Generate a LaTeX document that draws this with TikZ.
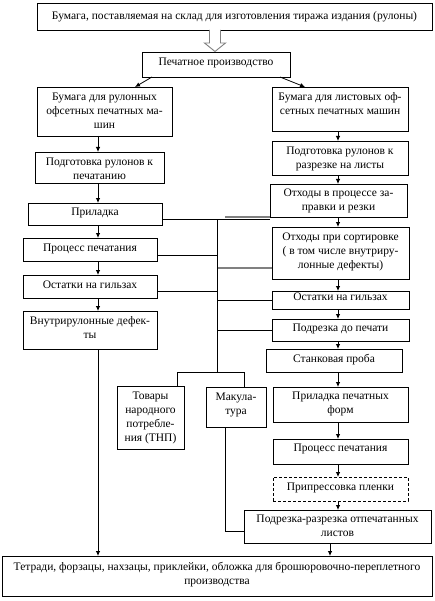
\documentclass[tikz,border=0pt]{standalone}
\usepackage{fontspec}
\setmainfont{Liberation Serif}
\usetikzlibrary{arrows.meta}
\newcommand{\myfont}{\fontsize{11.5bp}{14bp}\selectfont}
\newcommand{\bx}[8][]{%
 \pgfmathsetmacro\bxH{#7-#5}\pgfmathsetmacro\bxT{#6-#4-4}%
 \node[box,#1] (#2) at ({(#4+#6)/2},{(#5+#7)/2}) {\parbox[c][\bxH bp][t]{\bxT bp}{\vspace*{#3bp}\centering\strut #8\par}};}
\begin{document}
\begin{tikzpicture}[x=1bp,y=-1bp,
  box/.style={draw,line width=0.8bp,inner xsep=2bp,inner ysep=0pt,outer sep=0pt,font=\myfont},
  arr/.style={line width=0.8bp,-{Latex[length=5bp,width=4.5bp]}},
  ln/.style={line width=0.8bp},
  grayline/.style={line width=1.3bp,draw=gray}]
\useasboundingbox (0,0) rectangle (435,601);
\fill[white] (0,0) rectangle (435,601);
% boxes
\bx{top}{6.5}{37}{3}{432}{30}{Бумага, поставляемая на склад для изготовления тиража издания (рулоны)}
\bx{pp}{3.5}{142}{52}{290}{77}{Печатное производство}
\bx{b1}{4}{37}{87}{172}{136}{Бумага для рулонных\\офсетных печатных ма-\\шин}
\bx{b2}{3.5}{272}{87}{408}{131}{Бумага для листовых оф-\\сетных печатных машин}
\bx{p1}{3.5}{35}{152}{164}{183}{Подготовка рулонов к\\печатанию}
\bx{p2}{3.5}{272}{141}{408}{175}{Подготовка рулонов к\\разрезке на листы}
\bx{pril}{2.5}{28}{203}{162}{225}{Приладка}
\bx{ox}{3}{270}{184}{407}{217}{Отходы в процессе за-\\правки и резки}
\bx{proc1}{4}{23}{238}{157}{261}{Процесс печатания}
\bx{os}{3.5}{272}{227}{409}{279}{Отходы при сортировке\\( в том числе внутриру-\\лонные дефекты)}
\bx{ost2}{0}{272}{291}{409}{309}{Остатки на гильзах}
\bx{ost1}{3.5}{23}{275}{157}{298}{Остатки на гильзах}
\bx{vnut}{3.5}{23}{311}{157}{349}{Внутрирулонные дефек-\\ты}
\bx{podr}{2.5}{272}{319}{409}{341}{Подрезка до печати}
\bx{stank}{3.5}{266}{349}{402}{372}{Станковая проба}
\bx{tnp}{3.5}{117}{386}{184}{449}{Товары\\народного\\потребле-\\ния (ТНП)}
\bx{mak}{3.5}{206}{387}{266}{427}{Макула-\\тура}
\bx{prf}{3}{273}{387}{408}{422}{Приладка печатных\\форм}
\bx{proc2}{3}{273}{439}{408}{464}{Процесс печатания}
\bx[dashed,dash pattern=on 3bp off 2bp]{pripr}{3.5}{273}{477}{408}{501}{Припрессовка пленки}
\bx{podrez}{3}{244}{510}{431}{543}{Подрезка-разрезка отпечатанных\\листов}
\bx{bot}{4.5}{2}{556}{432}{596}{Тетради, форзацы, нахзацы, приклейки, обложка для брошюровочно-переплетного\\производства}
% hollow arrow
\draw[draw=gray,line width=0.9bp,fill=white] (209.5,30) -- (209.5,43) -- (204.5,43) -- (215,51.5) -- (225.5,43) -- (220.5,43) -- (220.5,30);
% helper coordinates
\coordinate (lx) at (98,0);
\coordinate (rx) at (338,0);
\coordinate (bx) at (330,0);
\coordinate (mx) at (217.5,0);
\coordinate (mkx) at (225,0);
\coordinate (mtop) at (217.5,219);
\coordinate (mbot) at (217.5,372);
\coordinate (bl) at (177,372);
\coordinate (br) at (244,372);
% arrows from pp
\draw[arr] ([xshift=10bp]pp.south west) -- ([xshift=30.5bp]b1.north);
\draw[arr] ([xshift=-10bp]pp.south east) -- ([xshift=-35bp]b2.north);
% left column
\draw[arr] (b1.south -| lx) -- (p1.north -| lx);
\draw[arr] (p1.south -| lx) -- (pril.north -| lx);
\draw[arr] (pril.south -| lx) -- (proc1.north -| lx);
\draw[arr] (proc1.south -| lx) -- (ost1.north -| lx);
\draw[arr] (ost1.south -| lx) -- (vnut.north -| lx);
\draw[arr] (vnut.south -| lx) -- (bot.north -| lx);
% right column
\draw[arr] (b2.south -| rx) -- (p2.north -| rx);
\draw[arr] (p2.south -| rx) -- (ox.north -| rx);
\draw[arr] (ox.south -| rx) -- (os.north -| rx);
\draw[arr] (os.south -| rx) -- (ost2.north -| rx);
\draw[arr] (ost2.south -| rx) -- (podr.north -| rx);
\draw[arr] (podr.south -| rx) -- (stank.north -| rx);
\draw[arr] (stank.south -| rx) -- (prf.north -| rx);
\draw[arr] (prf.south -| rx) -- (proc2.north -| rx);
\draw[arr] (proc2.south -| rx) -- (pripr.north -| rx);
\draw[arr] (pripr.south -| rx) -- (podrez.north -| rx);
\draw[arr] (podrez.south -| bx) -- (bot.north -| bx);
% collecting lines
\draw[ln] ([yshift=-5bp]pril.east) coordinate (t0) -- (t0 -| ox.west);
\draw[grayline] ([xshift=-45bp]ox.south west) -- (ox.south west);
\draw[ln] (mtop) -- (mbot);
\draw[ln] ([yshift=-5.5bp]proc1.east) coordinate (t1) -- (t1 -| mx);
\draw[ln] ([yshift=-4.5bp]ost1.east) coordinate (t2) -- (t2 -| mx);
\draw[grayline] ([yshift=-15bp]os.west) coordinate (t3) -- (t3 -| mx);
\draw[ln] (ost2.west) -- (ost2.west -| mx);
\draw[ln] (podr.west) -- (podr.west -| mx);
\draw[ln] (bl |- tnp.north) -- (bl) -- (br) -- (br |- mak.north);
\draw[ln] ([yshift=-4.5bp]podrez.west) coordinate (t6) -- (t6 -| mkx) -- (mkx |- mak.south);
\end{tikzpicture}
\end{document}
